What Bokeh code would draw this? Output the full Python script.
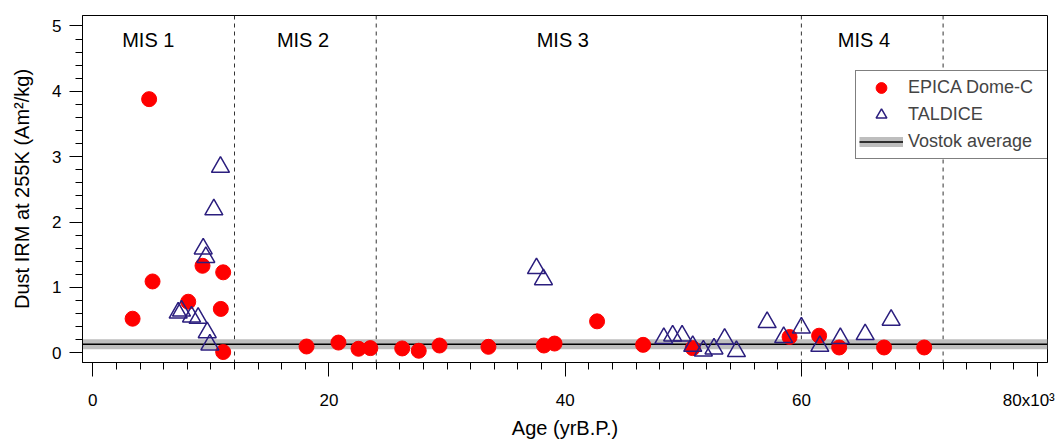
from bokeh.plotting import figure
from bokeh.models import (ColumnDataSource, Range1d, SingleIntervalTicker, Span,
                          Legend, LegendItem, CustomJSTickFormatter)
from bokeh.core.properties import value
from bokeh.embed import file_html
from bokeh.resources import INLINE

FONT = "Liberation Sans"
NAVY = "#2B1E7E"
GREY = "#BEBEBE"

# ---- data (age in years B.P., dust IRM in Am^2/kg) ----
epica_age = [3370, 4770, 5060, 8080, 9290, 10840, 11040, 11040,
             18100, 20800, 22500, 23500, 26200, 27600, 29360, 33500,
             38200, 39100, 42700, 46600, 50800,
             59000, 61500, 63200, 67000, 70400]
epica_irm = [0.52, 3.88, 1.09, 0.78, 1.33, 0.67, 1.23, 0.01,
             0.095, 0.155, 0.06, 0.07, 0.065, 0.03, 0.11, 0.09,
             0.11, 0.14, 0.48, 0.12, 0.07,
             0.24, 0.26, 0.08, 0.08, 0.08]

taldice_age = [7230, 7510, 8360, 8920, 9350, 9570, 9690, 9910, 10250, 10810,
               37570, 38160,
               48350, 49100, 49900, 50800, 51700, 52600, 53500, 54500,
               57100, 58500, 60000, 61560, 63300, 65400, 67600]
taldice_irm = [0.61, 0.64, 0.55, 0.53, 1.59, 1.46, 0.31, 0.12, 2.19, 2.84,
               1.29, 1.12,
               0.22, 0.26, 0.26, 0.10, 0.03, 0.06, 0.21, 0.02,
               0.465, 0.235, 0.38, 0.10, 0.22, 0.28, 0.50]

vostok_mean = 0.13

mis_bounds = [12000, 24000, 60000, 72000]
mis_labels = ["MIS 1", "MIS 2", "MIS 3", "MIS 4"]
mis_label_x = [4700, 17800, 39800, 65300]
mis_label_y = [4.78, 4.78, 4.78, 4.78]

x_start, x_end = -872, 80840
y_start, y_end = -0.15, 5.16

p = figure(width=1059, height=442, output_backend="svg", toolbar_location=None,
           x_range=Range1d(x_start, x_end), y_range=Range1d(y_start, y_end),
           min_border_left=82, min_border_right=12, min_border_top=15, min_border_bottom=80)
p.grid.visible = False
p.outline_line_color = "black"
p.outline_line_width = 1
p.background_fill_color = "white"
p.border_fill_color = "white"

# Vostok average: grey band with black mean line
vostok_src = ColumnDataSource(dict(x=[x_start, x_end], y=[vostok_mean, vostok_mean]))
r_band = p.line(x="x", y="y", source=vostok_src, line_width=10, line_color=GREY)
r_mean = p.line(x="x", y="y", source=vostok_src, line_width=1.5, line_color="black")

# MIS boundaries
for b in mis_bounds:
    p.add_layout(Span(location=b, dimension="height", line_color="#333333", line_width=1,
                      line_dash="4 4", level="underlay"))

mis_src = ColumnDataSource(dict(x=mis_label_x, y=mis_label_y, t=mis_labels))
p.text(x="x", y="y", text="t", source=mis_src, text_font=value(FONT), text_font_size="20px",
       text_align="center", text_baseline="middle", text_color="black")

ep_src = ColumnDataSource(dict(x=epica_age, y=epica_irm))
ta_src = ColumnDataSource(dict(x=taldice_age, y=taldice_irm))
r_ep = p.scatter(x="x", y="y", source=ep_src, marker="circle", size=15,
                 fill_color="red", line_color="red")
r_ta = p.scatter(x="x", y="y", source=ta_src, marker="triangle", size=18,
                 fill_color=None, line_color=NAVY, line_width=1.5)

legend = Legend(items=[LegendItem(label="EPICA Dome-C", renderers=[r_ep]),
                       LegendItem(label="TALDICE", renderers=[r_ta]),
                       LegendItem(label="Vostok average", renderers=[r_band, r_mean])],
                location=(773, 203), margin=0, padding=3, spacing=0,
                glyph_width=44, glyph_height=27, label_height=27, label_width=138,
                label_standoff=5, label_text_font=FONT, label_text_font_size="18px",
                label_text_baseline="middle",
                border_line_color="black", border_line_width=1,
                background_fill_color="white", background_fill_alpha=1)
p.add_layout(legend)

# axes
xa = p.xaxis[0]
xa.ticker = SingleIntervalTicker(interval=20000, num_minor_ticks=10)
# last tick carries the x10^3 multiplier
xa.formatter = CustomJSTickFormatter(
    code="return tick >= 80000 ? (tick/1000).toFixed(0) + 'x10\u00b3\u00a0' : (tick/1000).toFixed(0);")
xa.axis_label = "Age (yrB.P.)"
ya = p.yaxis[0]
ya.ticker = SingleIntervalTicker(interval=1, num_minor_ticks=5)
ya.axis_label = "Dust IRM at 255K (Am\u00b2/kg)"

for ax in (xa, ya):
    ax.axis_line_color = "black"
    ax.major_tick_line_color = "black"
    ax.minor_tick_line_color = "black"
    ax.major_tick_in = 0
    ax.minor_tick_in = 0
    ax.minor_tick_out = 7
    ax.major_label_text_font = FONT
    ax.major_label_text_font_size = "17px"
    ax.major_label_text_color = "black"
    ax.axis_label_text_font = FONT
    ax.axis_label_text_font_size = "20px"
    ax.axis_label_text_font_style = "normal"
    ax.axis_label_text_color = "black"
xa.major_tick_out = 14
xa.major_label_standoff = 14
xa.axis_label_standoff = 4
ya.major_tick_out = 13
ya.major_label_standoff = 8
ya.axis_label_standoff = 16

open("out.html", "w").write(file_html(p, INLINE))
